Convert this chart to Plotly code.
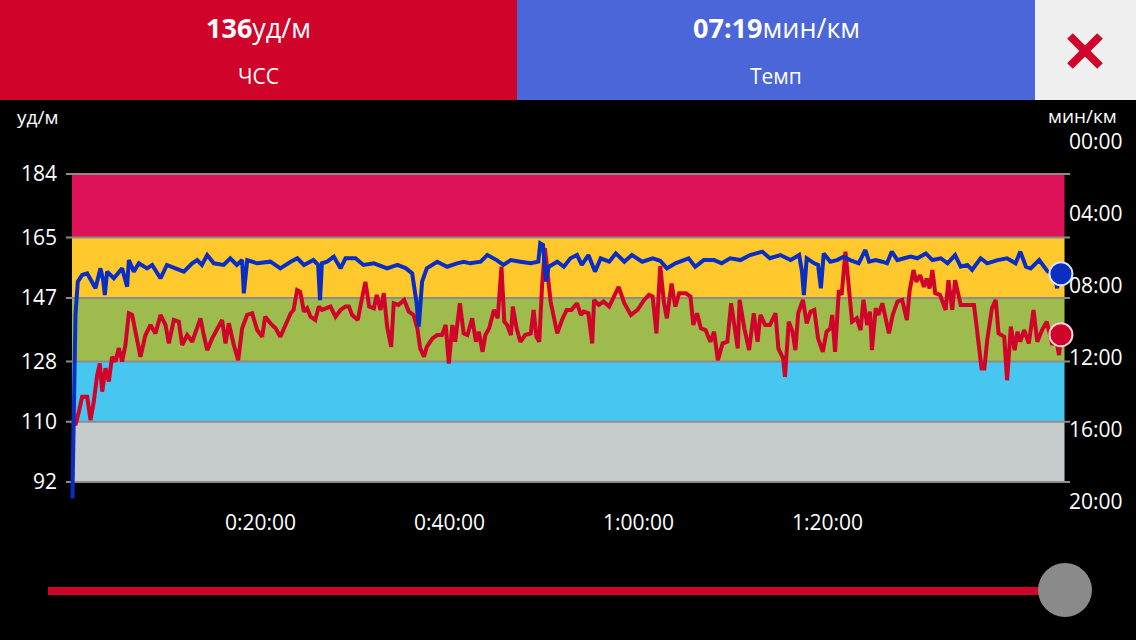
import plotly.graph_objects as go

# heart rate (bpm) against elapsed time in minutes
hr_t = [0.1, 0.42, 0.78, 1.13, 1.66, 2.01, 2.36, 2.72, 3.0, 3.25, 3.6, 3.95, 4.3, 4.66, 5.0, 5.36, 5.71,
        6.07, 6.42, 6.77, 7.3, 7.83, 8.36, 8.89, 9.42, 9.95, 10.3, 10.83, 11.36, 11.71, 12.24, 12.77,
        13.12, 13.65, 14.0, 14.36, 14.89, 15.41, 15.94, 16.3, 16.65, 17.18, 17.64, 18.06, 18.59, 19.12,
        19.65, 20.18, 20.5, 21.06, 21.6, 22.1, 22.6, 23.2, 23.5, 23.88, 24.2, 24.6, 24.94, 25.3, 25.8,
        26.17, 26.5, 27.05, 27.4, 27.94, 28.47, 29.0, 29.35, 29.7, 30.3, 30.6, 31.1, 31.5, 32.0, 32.3,
        32.7, 33.05, 33.4, 33.83, 34.1, 34.6, 35.2, 35.7, 36.2, 36.6, 36.9, 37.3, 37.6, 38.2, 38.7,
        39.2, 39.6, 39.93, 40.3, 40.6, 41.1, 41.5, 41.9, 42.4, 42.8, 43.1, 43.5, 43.8, 44.2, 44.7, 45.1,
        45.5, 45.8, 46.1, 46.5, 46.7, 47.1, 47.5, 48.0, 48.6, 48.9, 49.2, 49.5, 49.8, 50.1, 50.7, 51.4,
        51.9, 52.4, 52.9, 53.5, 53.9, 54.2, 54.7, 55.1, 55.3, 55.8, 56.3, 56.9, 57.4, 57.9, 58.5, 59.2,
        59.9, 60.6, 61.1, 61.5, 61.9, 62.3, 62.7, 63.0, 63.5, 63.9, 64.3, 65.0, 65.5, 65.8, 66.2, 66.6,
        67.1, 67.6, 68.0, 68.4, 68.9, 69.4, 69.8, 70.2, 70.5, 70.7, 71.2, 71.7, 72.2, 72.6, 72.9, 73.4,
        73.9, 74.5, 74.8, 75.3, 75.5, 75.9, 76.3, 76.6, 76.9, 77.4, 77.8, 78.2, 78.6, 79.0, 79.5, 79.9,
        80.3, 80.5, 80.8, 81.2, 81.5, 81.9, 82.3, 82.6, 83.1, 83.5, 83.8, 84.2, 84.5, 84.7, 85.1, 85.4,
        85.8, 86.1, 86.5, 86.9, 87.4, 87.9, 88.4, 88.7, 89.1, 89.4, 89.8, 90.2, 90.5, 90.8, 91.1, 91.4,
        91.9, 92.5, 92.8, 93.2, 93.5, 94.1, 94.8, 95.5, 95.8, 96.3, 96.6, 96.9, 97.4, 97.8, 98.1, 98.7,
        99.0, 99.4, 99.8, 100.1, 100.4, 100.8, 101.3, 101.8, 102.2, 102.7, 103.2, 103.8, 104.1, 104.5,
        104.7]
hr_v = [110, 109, 113, 117.5, 117.5, 110.5, 116, 124, 127.4, 119, 126, 122, 129.4, 128, 132, 128, 133,
        142.4, 141.9, 136.9, 129.4, 135.9, 138.9, 136.4, 141.9, 138.9, 133.4, 140.4, 139.9, 132.9, 135.9,
        133.9, 136.9, 140.9, 135.9, 131.4, 134.9, 137.9, 140.4, 133.4, 139.4, 132.9, 128.4, 137.9, 141.9,
        142.4, 137.4, 135.4, 141.4, 139.4, 137.9, 135.4, 138.9, 142.4, 143.4, 149.3, 148.8, 142.9, 143.9,
        141.4, 140.4, 144.4, 143.4, 143.9, 144.4, 141.4, 143.4, 144.4, 144.4, 141.9, 140.4, 144.9, 151.8,
        144.4, 143.9, 147.9, 143.4, 148.4, 138.4, 132.4, 145.4, 144.9, 146.4, 142.9, 141.9, 137.9, 131.9,
        129.4, 132.4, 134.9, 135.9, 135.9, 138.9, 127.4, 138.9, 133.9, 145.4, 136.4, 135.9, 140.9, 133.9,
        136.9, 130.9, 135.9, 137.9, 143.4, 140.9, 156.3, 139.9, 138.9, 135.9, 144.4, 137.9, 133.9, 135.9,
        136.4, 143.4, 135.4, 133.9, 150.8, 161.8, 145.9, 136.4, 140.4, 143.4, 143.4, 145.4, 141.9, 142.9,
        142.4, 133.4, 146.4, 144.9, 145.9, 144.4, 147.4, 150.3, 145.4, 141.9, 143.4, 146.4, 147.9, 147.4,
        136.4, 156.5, 145.4, 140.9, 151.3, 144.4, 148.4, 148.4, 147.4, 138.9, 142.4, 137.9, 137.4, 133.9,
        136.9, 128.4, 133.4, 133.9, 145.4, 137.4, 131.9, 146.4, 137.9, 131.4, 142.4, 133.9, 141.9, 138.9,
        138.9, 142.4, 131.9, 128.9, 123.4, 139.9, 136.9, 131.4, 142.4, 146.4, 139.4, 142.9, 143.4, 134.9,
        130.9, 136.9, 137.9, 141.9, 130.9, 149.3, 147.9, 160.8, 147.9, 139.9, 140.9, 137.4, 146.4, 138.9,
        142.9, 131.4, 143.9, 141.9, 145.4, 141.4, 136.4, 141.9, 145.9, 146.4, 140.4, 149.3, 155.3, 151.8,
        153.8, 150.3, 152.8, 149.8, 155.3, 148.4, 147.9, 143.4, 152.3, 143.4, 152.3, 144.9, 144.9, 144.9,
        137.9, 125.9, 125.9, 134.4, 143.9, 146.4, 136.4, 135.4, 122.4, 138.4, 131.4, 136.9, 133.9, 137.4,
        133.4, 143.4, 133.9, 137.4, 139.9, 132.9, 136.4, 129.9, 136]

# pace (minutes per km) against elapsed time in minutes
pace_t = [0.1, 0.42, 0.67, 1.13, 1.66, 2.19, 2.54, 3.07, 3.35, 3.53, 3.77, 4.48, 5.36, 5.89, 6.07, 6.6,
          7.13, 8.0, 8.54, 9.42, 10.1, 11.0, 11.89, 12.77, 13.3, 13.8, 14.36, 15.06, 16.1, 16.8, 17.5,
          18.06, 18.24, 18.6, 19.65, 21.06, 22.1, 23.2, 23.9, 24.6, 25.6, 26.1, 26.3, 26.5, 27.05, 27.76,
          28.47, 29.0, 30.05, 30.9, 32.0, 33.4, 34.5, 35.4, 36.05, 36.5, 36.75, 37.1, 37.6, 38.7, 39.75,
          40.8, 41.5, 42.2, 43.3, 44.0, 45.0, 45.7, 46.5, 47.5, 48.6, 49.4, 49.6, 49.9, 50.2, 50.5, 51.4,
          52.1, 52.8, 53.5, 54.0, 54.7, 55.4, 56.0, 56.9, 57.6, 58.5, 59.3, 60.4, 61.5, 62.3, 63.0, 63.9,
          65.3, 66.0, 66.9, 68.0, 68.8, 69.7, 70.8, 71.8, 73.1, 73.9, 75.0, 76.1, 77.0, 77.3, 77.5, 77.8,
          78.6, 79.0, 79.3, 79.6, 80.3, 81.0, 81.7, 82.4, 83.3, 84.0, 84.4, 85.1, 85.8, 86.3, 86.8, 87.4,
          88.1, 88.8, 89.5, 90.4, 91.1, 92.0, 92.7, 93.5, 94.1, 94.8, 95.3, 96.2, 96.9, 98.0, 99.0, 99.9,
          100.4, 101.0, 101.5, 102.4, 103.3, 104.0, 104.3, 104.5, 104.7]
pace_v = [19.8, 9.61, 7.76, 7.39, 7.30, 7.76, 8.13, 7.02, 7.67, 8.5, 7.2, 7.57, 7.02, 8.04, 6.56, 7.2,
          6.74, 7.02, 6.83, 7.57, 6.83, 7.02, 7.2, 6.74, 6.56, 6.83, 6.28, 6.74, 6.83, 6.46, 6.83,
          6.56, 8.41, 6.56, 6.74, 6.65, 7.02, 6.65, 6.46, 6.83, 6.56, 6.83, 8.78, 6.74, 6.65, 6.37,
          7.02, 6.46, 6.46, 6.83, 6.74, 7.02, 6.83, 7.02, 7.3, 8.87, 10.26, 7.76, 7.02, 6.65, 6.93,
          6.74, 6.65, 6.74, 6.65, 6.28, 6.56, 6.83, 6.56, 6.65, 6.74, 6.65, 5.63, 5.72, 7.76, 6.93, 6.65,
          6.93, 6.46, 6.28, 6.83, 6.28, 7.2, 6.46, 6.65, 6.19, 6.65, 6.28, 6.65, 6.46, 6.6, 7.02, 6.74,
          6.46, 6.93, 6.56, 6.56, 6.74, 6.46, 6.56, 6.28, 6.09, 6.46, 6.28, 6.56, 6.28, 7.2, 8.5, 6.46,
          6.74, 6.83, 8.13, 6.19, 6.65, 6.56, 6.37, 6.56, 6.74, 6.0, 6.65, 6.56, 6.65, 6.74, 6.09, 6.56,
          6.46, 6.37, 6.46, 6.19, 6.56, 6.46, 6.74, 6.28, 6.93, 6.83, 7.11, 6.46, 6.74, 6.56, 6.46, 6.74,
          6.09, 6.93, 7.02, 6.56, 7.2, 7.3, 8.13, 7.3, 7.32]

zone_edges = [92, 110, 128, 147, 165, 184]
zone_colors = ["#C6CCCB", "#47C6EF", "#9DBC4D", "#FFC92E", "#DE1259"]
pace_ticks = [0, 4, 8, 12, 16, 20]
pace_labels = ["00:00", "04:00", "08:00", "12:00", "16:00", "20:00"]
time_ticks = [20, 40, 60, 80]
time_labels = ["0:20:00", "0:40:00", "1:00:00", "1:20:00"]

RED = "#D0042A"
BLUE = "#0B2EC2"
FONT = "Open Sans"

# plot area in pixels
L, R, T, B = 66, 1070, 142, 502
def px(x):
    return (x - L) / (R - L)
def py(y):
    return (B - y) / (B - T)

fig = go.Figure()

fig.add_trace(go.Scatter(x=pace_t, y=pace_v, yaxis="y2", mode="lines",
                         line=dict(color=BLUE, width=4), hoverinfo="skip"))
fig.add_trace(go.Scatter(x=hr_t, y=hr_v, mode="lines",
                         line=dict(color=RED, width=4), hoverinfo="skip"))
fig.add_trace(go.Scatter(x=[pace_t[-1]], y=[pace_v[-1]], yaxis="y2", mode="markers", cliponaxis=False,
                         marker=dict(size=23, color=BLUE, line=dict(color="#DDE3F5", width=2)),
                         hoverinfo="skip"))
fig.add_trace(go.Scatter(x=[hr_t[-1]], y=[hr_v[-1]], mode="markers", cliponaxis=False,
                         marker=dict(size=23, color=RED, line=dict(color="#F3D5DA", width=2)),
                         hoverinfo="skip"))

shapes = []
# heart rate zones
for i, c in enumerate(zone_colors):
    shapes.append(dict(type="rect", xref="x", yref="y", x0=0.05, x1=105.08,
                       y0=zone_edges[i], y1=zone_edges[i + 1], fillcolor=c,
                       line=dict(width=0), layer="below"))
for e in zone_edges:
    shapes.append(dict(type="line", xref="x", yref="y", x0=-0.58, x1=105.66, y0=e, y1=e,
                       line=dict(color="#8C8C8C", width=2), layer="below"))

# header boxes
shapes.append(dict(type="rect", xref="paper", yref="paper", x0=px(0), x1=px(517), y0=py(100), y1=py(0),
                   fillcolor=RED, line=dict(width=0)))
shapes.append(dict(type="rect", xref="paper", yref="paper", x0=px(517), x1=px(1035), y0=py(100), y1=py(0),
                   fillcolor="#4B66D9", line=dict(width=0)))
shapes.append(dict(type="rect", xref="paper", yref="paper", x0=px(1035), x1=px(1136), y0=py(100), y1=py(0),
                   fillcolor="#F0F0F0", line=dict(width=0)))
# close cross
shapes.append(dict(type="line", xref="paper", yref="paper", x0=px(1070), y0=py(36), x1=px(1100), y1=py(66),
                   line=dict(color=RED, width=8)))
shapes.append(dict(type="line", xref="paper", yref="paper", x0=px(1070), y0=py(66), x1=px(1100), y1=py(36),
                   line=dict(color=RED, width=8)))
# slider
shapes.append(dict(type="line", xref="paper", yref="paper", x0=px(48), y0=py(591), x1=px(1045), y1=py(591),
                   line=dict(color=RED, width=8)))
shapes.append(dict(type="circle", xref="paper", yref="paper", x0=px(1038), x1=px(1092), y0=py(617), y1=py(563),
                   fillcolor="#8A8A8A", line=dict(width=0)))

annotations = [
    dict(x=px(258), y=py(27), text="<b>136</b>уд/м", font=dict(size=27)),
    dict(x=px(258), y=py(76), text="ЧСС", font=dict(size=21)),
    dict(x=px(776), y=py(27), text="<b>07:19</b>мин/км", font=dict(size=27)),
    dict(x=px(776), y=py(76), text="Темп", font=dict(size=21)),
    dict(x=px(15), y=py(117), text="уд/м", xanchor="left", font=dict(size=19)),
    dict(x=px(1119), y=py(116), text="мин/км", xanchor="right", font=dict(size=19)),
]
for a in annotations:
    a.update(xref="paper", yref="paper", showarrow=False, yanchor="middle")
    a.setdefault("xanchor", "center")
    a["font"].update(color="white", family=FONT)

fig.update_layout(
    width=1136, height=640,
    margin=dict(l=L, r=1136 - R, t=T, b=640 - B),
    paper_bgcolor="black", plot_bgcolor="black",
    showlegend=False,
    font=dict(family=FONT, color="white", size=21),
    shapes=shapes, annotations=annotations,
    xaxis=dict(range=[-0.58, 105.66], tickvals=time_ticks, ticktext=time_labels,
               showgrid=False, zeroline=False, showline=False, ticks="", ticklabelstandoff=6,
               fixedrange=True),
    yaxis=dict(range=[86.03, 193.56], tickvals=zone_edges, showgrid=False, zeroline=False,
               showline=False, ticks="", ticklabelstandoff=8, fixedrange=True),
    yaxis2=dict(range=[20, 0], overlaying="y", side="right", tickvals=pace_ticks, ticktext=pace_labels,
                showgrid=False, zeroline=False, showline=False, ticks="", ticklabelstandoff=-2,
                fixedrange=True),
)

# page body margin would shift the figure by 8px
fig.write_html("out.html", config={"displayModeBar": False},
               post_script="document.body.style.margin='0';")
